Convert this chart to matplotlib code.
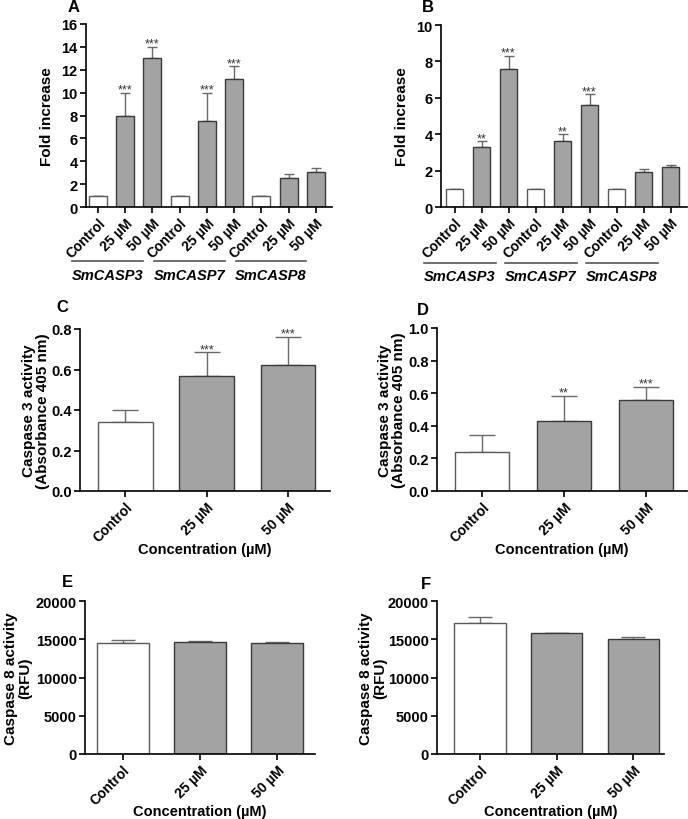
import numpy as np
import matplotlib.pyplot as plt

plt.rcParams['font.family'] = ['Liberation Sans', 'DejaVu Sans']
plt.rcParams['font.weight'] = 'bold'

# panel A / B: fold increase by gene
fold_labels = ['Control', '25 µM', '50 µM'] * 3
genes = ['SmCASP3', 'SmCASP7', 'SmCASP8']
fold_a = [1.0, 8.0, 13.0, 1.0, 7.5, 11.2, 1.0, 2.5, 3.1]
fold_a_err = [0.0, 2.0, 1.0, 0.0, 2.5, 1.1, 0.0, 0.4, 0.3]
stars_a = ['', '***', '***', '', '***', '***', '', '', '']
fold_b = [1.0, 3.3, 7.6, 1.0, 3.6, 5.6, 1.0, 1.95, 2.2]
fold_b_err = [0.0, 0.3, 0.7, 0.0, 0.4, 0.6, 0.0, 0.15, 0.1]
stars_b = ['', '**', '***', '', '**', '***', '', '', '']

# panel C / D: caspase 3 activity
conc_labels = ['Control', '25 µM', '50 µM']
casp3_c = [0.34, 0.57, 0.62]
casp3_c_err = [0.06, 0.115, 0.14]
stars_c = ['', '***', '***']
casp3_d = [0.24, 0.43, 0.56]
casp3_d_err = [0.105, 0.155, 0.08]
stars_d = ['', '**', '***']

# panel E / F: caspase 8 activity
casp8_e = [14500, 14600, 14450]
casp8_e_err = [350, 200, 250]
casp8_f = [17100, 15800, 15050]
casp8_f_err = [850, 50, 250]

WHITE_EDGE = '#5a5a5a'
GRAY_FILL = '#a3a3a3'
GRAY_EDGE = '#3a3a3a'
ERR_COL = '#6a6a6a'

fig = plt.figure(figsize=(6.88, 8.20), dpi=100)
W, H = 688, 820


def px_axes(left, right, top, bottom):
    return fig.add_axes([left / W, 1 - bottom / H, (right - left) / W, (bottom - top) / H])


def bars(ax, vals, errs, stars, width, capsize, xlim, ylim, yticks, fmt, labels, ylabel):
    x = np.arange(len(vals))
    colors = [('white', WHITE_EDGE) if lab == 'Control' else (GRAY_FILL, GRAY_EDGE) for lab in labels]
    ax.bar(x, vals, width=width, color=[c[0] for c in colors],
           edgecolor=[c[1] for c in colors], linewidth=1.0, zorder=2)
    ax.errorbar(x, vals, yerr=[np.zeros(len(errs)), errs], fmt='none', ecolor=ERR_COL,
                elinewidth=1.0, capsize=capsize, capthick=1.0, zorder=1)
    for xi, v, e, s in zip(x, vals, errs, stars):
        if s:
            ax.annotate(s, (xi, v + e), xytext=(0, -2), textcoords='offset points',
                        ha='center', va='bottom', fontsize=9, fontweight='normal', color='#333333')
    ax.set_xlim(*xlim)
    ax.set_ylim(*ylim)
    ax.set_yticks(yticks)
    ax.set_yticklabels([fmt.format(t) for t in yticks], fontsize=10.5)
    ax.set_xticks(x)
    ax.set_xticklabels(labels, rotation=45, ha='right', rotation_mode='anchor', fontsize=10)
    ax.set_ylabel(ylabel, fontsize=11, fontweight='bold', linespacing=1.0)
    for side in ['top', 'right']:
        ax.spines[side].set_visible(False)
    for side in ['left', 'bottom']:
        ax.spines[side].set_linewidth(1.2)
    ax.tick_params(direction='out', length=4, width=1.2, pad=2)


def gene_groups(ax, lo, hi, yline, ytext):
    tr = ax.get_xaxis_transform()
    for i, g in enumerate(genes):
        s = 3 * i
        ax.plot([s + lo, s + hi], [yline, yline], color='#555555', lw=1.2,
                transform=tr, clip_on=False)
        ax.text(s + (lo + hi) / 2, ytext, g, transform=tr, ha='center', va='center',
                fontsize=10.5, fontstyle='italic', fontweight='bold')


# A
axA = px_axes(86, 332, 25, 208)
bars(axA, fold_a, fold_a_err, stars_a, 0.66, 3.5, (-0.44, 8.59), (0, 16),
     np.arange(0, 17, 2), '{:.0f}', fold_labels, 'Fold increase')
gene_groups(axA, -0.95, 1.65, -0.295, -0.37)
axA.yaxis.set_label_coords(-0.13, 0.5)

# B
axB = px_axes(441, 687, 26, 208)
bars(axB, fold_b, fold_b_err, stars_b, 0.63, 3.5, (-0.5, 8.61), (0, 10),
     np.arange(0, 11, 2), '{:.0f}', fold_labels, 'Fold increase')
gene_groups(axB, -1.13, 1.54, -0.308, -0.38)
axB.yaxis.set_label_coords(-0.13, 0.5)

# C
axC = px_axes(80, 330, 330, 492)
bars(axC, casp3_c, casp3_c_err, stars_c, 0.67, 9.5, (-0.56, 2.52), (0, 0.8),
     np.arange(0, 0.81, 0.2), '{:.1f}', conc_labels, 'Caspase 3 activity\n(Absorbance 405 nm)')
axC.set_xlabel('Concentration (µM)', fontsize=10.5, fontweight='bold')
axC.xaxis.set_label_coords(0.5, -0.315)
axC.yaxis.set_label_coords(-0.12, 0.5)

# D
axD = px_axes(437, 687, 329, 492)
bars(axD, casp3_d, casp3_d_err, stars_d, 0.66, 9.5, (-0.55, 2.5), (0, 1.0),
     np.arange(0, 1.01, 0.2), '{:.1f}', conc_labels, 'Caspase 3 activity\n(Absorbance 405 nm)')
axD.set_xlabel('Concentration (µM)', fontsize=10.5, fontweight='bold')
axD.xaxis.set_label_coords(0.5, -0.315)
axD.yaxis.set_label_coords(-0.124, 0.5)

# E
axE = px_axes(85, 315, 602, 755)
bars(axE, casp8_e, casp8_e_err, ['', '', ''], 0.675, 8.5, (-0.49, 2.49), (0, 20000),
     np.arange(0, 20001, 5000), '{:.0f}', conc_labels, 'Caspase 8 activity\n(RFU)')
axE.set_xlabel('Concentration (µM)', fontsize=10.5, fontweight='bold')
axE.xaxis.set_label_coords(0.5, -0.325)
axE.yaxis.set_label_coords(-0.23, 0.5)

# F
axF = px_axes(437, 664, 602, 755)
bars(axF, casp8_f, casp8_f_err, ['', '', ''], 0.67, 8.5, (-0.56, 2.4), (0, 20000),
     np.arange(0, 20001, 5000), '{:.0f}', conc_labels, 'Caspase 8 activity\n(RFU)')
axF.set_xlabel('Concentration (µM)', fontsize=10.5, fontweight='bold')
axF.xaxis.set_label_coords(0.5, -0.325)
axF.yaxis.set_label_coords(-0.22, 0.5)

# panel letters
for letter, (px, py) in zip('ABCDEF', [(74, 8), (428, 8), (62, 308), (423, 311), (67, 583), (426, 585)]):
    fig.text(px / W, 1 - py / H, letter, fontsize=12, fontweight='bold', ha='center', va='center')

fig.savefig('out.png', dpi=100)
